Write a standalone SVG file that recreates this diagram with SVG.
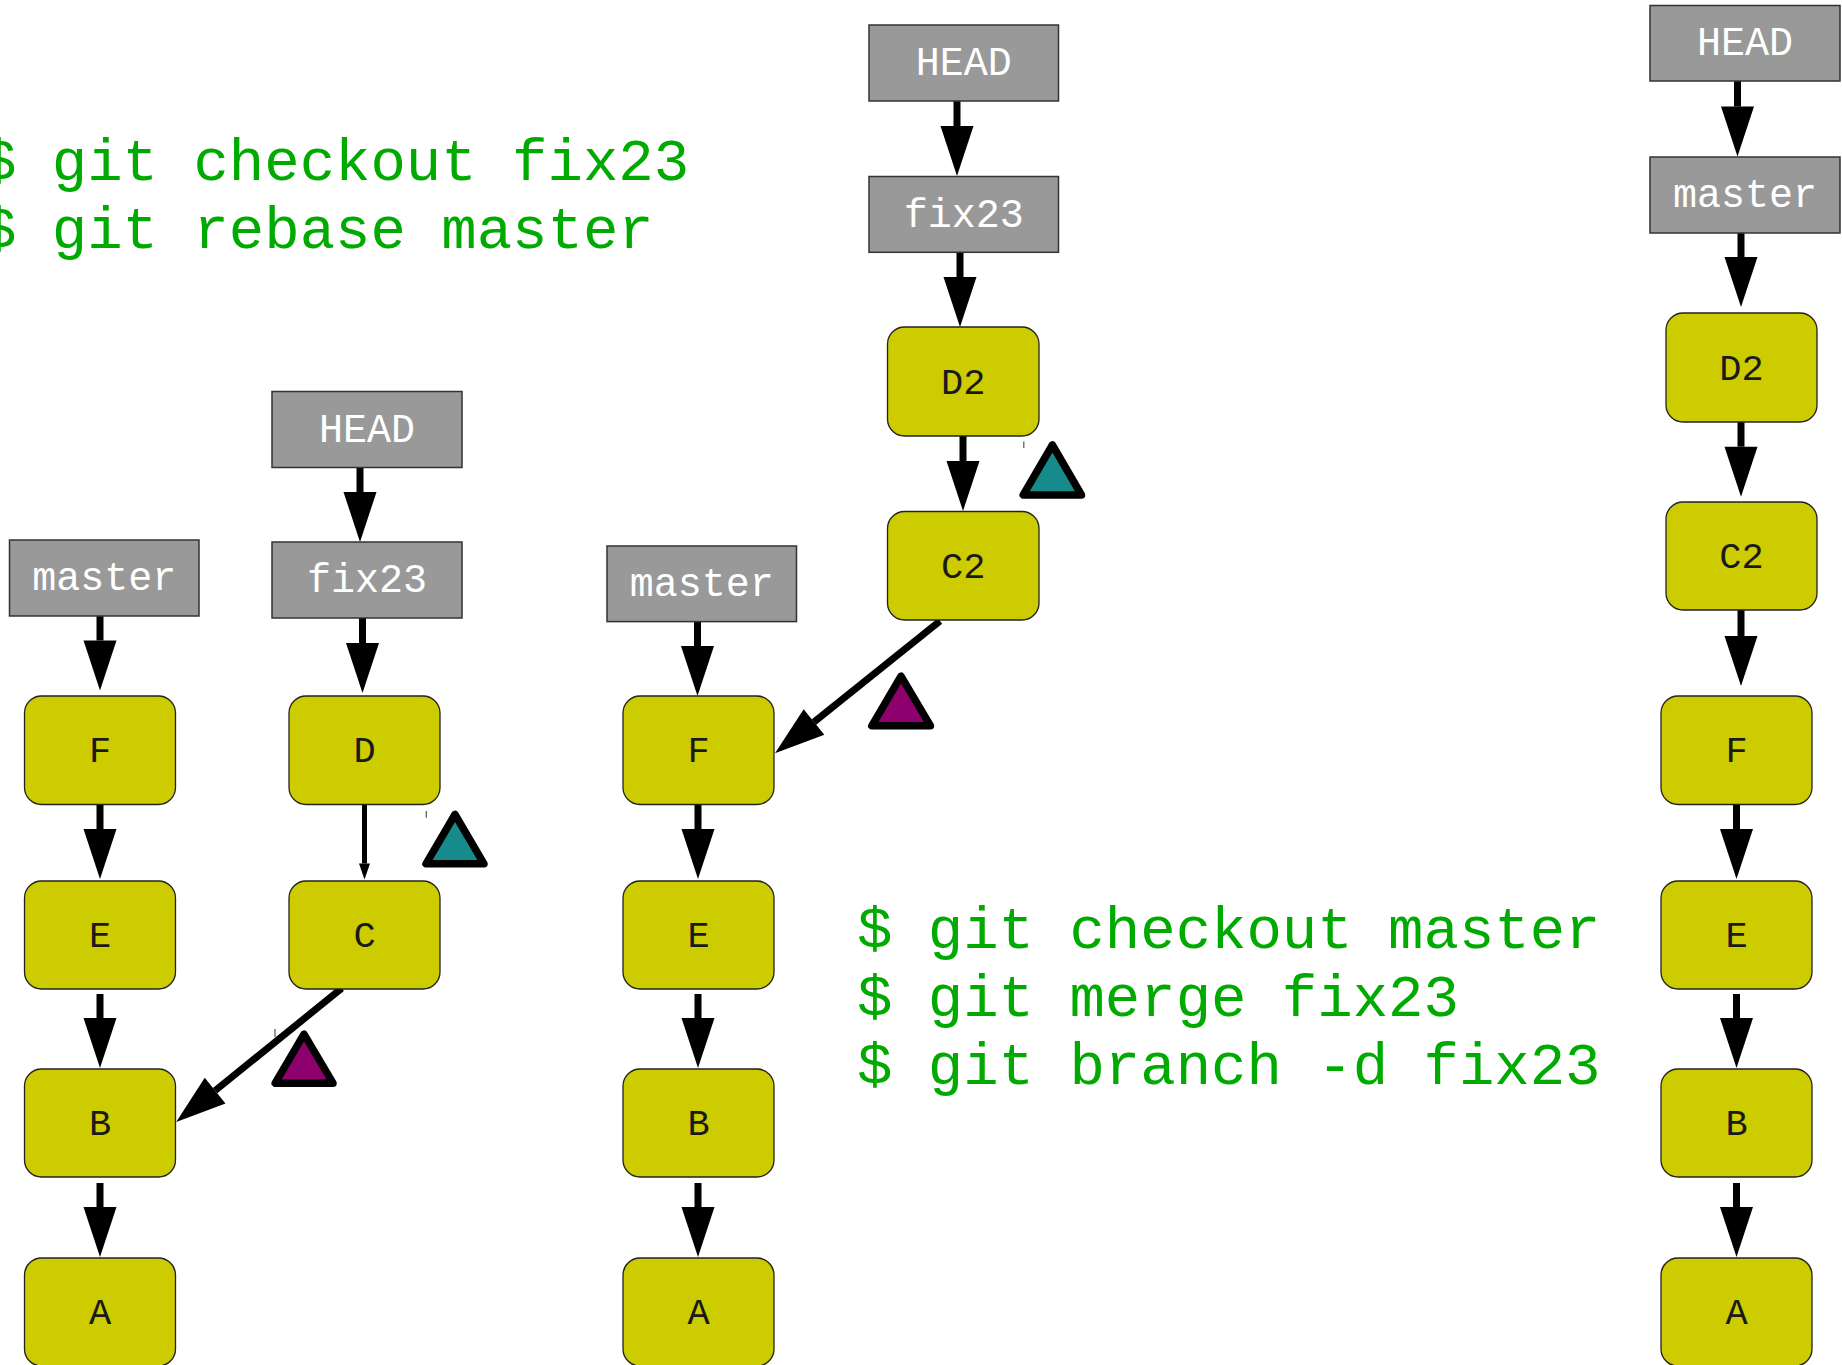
<svg xmlns="http://www.w3.org/2000/svg" width="1842" height="1365" viewBox="0 0 1842 1365">
<style>
.ref rect{fill:#999999;stroke:#333333;stroke-width:1.5}
.ref text{fill:#ffffff;font-family:"Liberation Mono","DejaVu Sans Mono",monospace;font-size:40px;text-anchor:middle}
.cm rect{fill:#cccc00;stroke:#222222;stroke-width:1.3}
.cm text{fill:#1a1a1a;font-family:"Liberation Mono","DejaVu Sans Mono",monospace;font-size:37px;text-anchor:middle}
.cmd{fill:#00aa00;font-family:"Liberation Mono","DejaVu Sans Mono",monospace;font-size:59px}
.edge{stroke:#000000;stroke-width:7;fill:none;marker-end:url(#ah)}
.thin{stroke:#000000;stroke-width:5;fill:none;marker-end:url(#ahs)}
.tri{stroke:#000000;stroke-width:7.5;stroke-linejoin:round}
.teal{fill:#178b8b}
.mag{fill:#8e006e}
.tick{stroke:#555555;stroke-width:1.2}
</style>
<defs>
<marker id="ah" markerUnits="userSpaceOnUse" markerWidth="50" markerHeight="34" refX="0" refY="16.5" orient="auto" overflow="visible">
<path d="M0,0 L50,16.5 L0,33 Z" fill="#000000"/>
</marker>
<marker id="ahs" markerUnits="userSpaceOnUse" markerWidth="16" markerHeight="11" refX="0" refY="5.5" orient="auto" overflow="visible">
<path d="M0,0 L16,5.5 L0,11 Z" fill="#000000"/>
</marker>
</defs>
<rect x="0" y="0" width="1842" height="1365" fill="#ffffff"/>

<text class="cmd" x="-19" y="180">$ git checkout fix23</text>
<text class="cmd" x="-19" y="248">$ git rebase master</text>
<text class="cmd" x="857" y="948">$ git checkout master</text>
<text class="cmd" x="857" y="1016">$ git merge fix23</text>
<text class="cmd" x="857" y="1084">$ git branch -d fix23</text>

<g id="connectors">
<line class="edge" x1="360" y1="467.5" x2="360" y2="492"/>
<line class="edge" x1="362.5" y1="618" x2="362.5" y2="643"/>
<line class="edge" x1="100" y1="616" x2="100" y2="640.5"/>
<line class="edge" x1="100" y1="805" x2="100" y2="829"/>
<line class="edge" x1="100" y1="994" x2="100" y2="1018"/>
<line class="edge" x1="100" y1="1183" x2="100" y2="1207"/>
<line class="thin" x1="364.5" y1="804.5" x2="364.5" y2="863.5"/>
<line class="edge" x1="341.7" y1="988.3" x2="215.1" y2="1090.6"/>
<line class="edge" x1="697.5" y1="621.6" x2="697.5" y2="646"/>
<line class="edge" x1="698" y1="805" x2="698" y2="829"/>
<line class="edge" x1="698" y1="994" x2="698" y2="1018"/>
<line class="edge" x1="698" y1="1183" x2="698" y2="1207"/>
<line class="edge" x1="957" y1="101" x2="957" y2="126"/>
<line class="edge" x1="960" y1="252.3" x2="960" y2="277"/>
<line class="edge" x1="963" y1="436" x2="963" y2="461"/>
<line class="edge" x1="940" y1="621" x2="814" y2="722"/>
<line class="edge" x1="1737.5" y1="81" x2="1737.5" y2="106.6"/>
<line class="edge" x1="1741" y1="233" x2="1741" y2="257"/>
<line class="edge" x1="1741" y1="422" x2="1741" y2="446.7"/>
<line class="edge" x1="1741" y1="610" x2="1741" y2="636"/>
<line class="edge" x1="1736.5" y1="805" x2="1736.5" y2="829"/>
<line class="edge" x1="1736.5" y1="994" x2="1736.5" y2="1018"/>
<line class="edge" x1="1736.5" y1="1183" x2="1736.5" y2="1207"/>
</g>

<g id="markers">
<path class="tri teal" d="M455,814.5 L426,863.8 L484,863.8 Z"/>
<path class="tri mag" d="M304,1034.2 L275.2,1083.2 L333,1083.2 Z"/>
<path class="tri teal" d="M1052.4,445 L1023.2,495 L1081.5,495 Z"/>
<path class="tri mag" d="M901,676.2 L871.8,725.8 L930.5,725.8 Z"/>
<line class="tick" x1="426.3" y1="811" x2="426.3" y2="817.7"/>
<line class="tick" x1="275" y1="1029" x2="275" y2="1037"/>
<line class="tick" x1="1023.8" y1="441.5" x2="1023.8" y2="448"/>
</g>

<g id="l-master" class="ref"><rect x="9.5" y="540" width="189.5" height="76"/><text x="104.3" y="590">master</text></g>
<g id="l-head" class="ref"><rect x="272" y="391.5" width="190" height="76"/><text x="367" y="441.5">HEAD</text></g>
<g id="l-fix23" class="ref"><rect x="272" y="542" width="190" height="76"/><text x="367" y="592">fix23</text></g>
<g id="l-F" class="cm"><rect x="24.5" y="696" width="151" height="108.5" rx="17"/><text x="100" y="762">F</text></g>
<g id="l-E" class="cm"><rect x="24.5" y="881" width="151" height="108" rx="17"/><text x="100" y="947">E</text></g>
<g id="l-B" class="cm"><rect x="24.5" y="1069" width="151" height="108" rx="17"/><text x="100" y="1135">B</text></g>
<g id="l-A" class="cm"><rect x="24.5" y="1258" width="151" height="108" rx="17"/><text x="100" y="1324">A</text></g>
<g id="l-D" class="cm"><rect x="289" y="696" width="151" height="108.5" rx="17"/><text x="364.5" y="762">D</text></g>
<g id="l-C" class="cm"><rect x="289" y="881" width="151" height="108" rx="17"/><text x="364.5" y="947">C</text></g>

<g id="m-master" class="ref"><rect x="607" y="546" width="189.5" height="75.6"/><text x="701.7" y="596">master</text></g>
<g id="m-head" class="ref"><rect x="869" y="25" width="189.5" height="76"/><text x="963.7" y="75">HEAD</text></g>
<g id="m-fix23" class="ref"><rect x="869" y="176.5" width="189.5" height="75.8"/><text x="963.7" y="226.5">fix23</text></g>
<g id="m-D2" class="cm"><rect x="887.5" y="327" width="151.5" height="109" rx="17"/><text x="963.2" y="393.5">D2</text></g>
<g id="m-C2" class="cm"><rect x="887.5" y="511.5" width="151.5" height="108.5" rx="17"/><text x="963.2" y="578">C2</text></g>
<g id="m-F" class="cm"><rect x="623" y="696" width="151" height="108.5" rx="17"/><text x="698.5" y="762">F</text></g>
<g id="m-E" class="cm"><rect x="623" y="881" width="151" height="108" rx="17"/><text x="698.5" y="947">E</text></g>
<g id="m-B" class="cm"><rect x="623" y="1069" width="151" height="108" rx="17"/><text x="698.5" y="1135">B</text></g>
<g id="m-A" class="cm"><rect x="623" y="1258" width="151" height="108" rx="17"/><text x="698.5" y="1324">A</text></g>

<g id="r-head" class="ref"><rect x="1650" y="5.5" width="190" height="75.5"/><text x="1745" y="55">HEAD</text></g>
<g id="r-master" class="ref"><rect x="1650" y="157" width="190" height="76"/><text x="1745" y="207">master</text></g>
<g id="r-D2" class="cm"><rect x="1666" y="313" width="151" height="109" rx="17"/><text x="1741.5" y="379.5">D2</text></g>
<g id="r-C2" class="cm"><rect x="1666" y="502" width="151" height="108" rx="17"/><text x="1741.5" y="568">C2</text></g>
<g id="r-F" class="cm"><rect x="1661" y="696" width="151" height="108.5" rx="17"/><text x="1736.5" y="762">F</text></g>
<g id="r-E" class="cm"><rect x="1661" y="881" width="151" height="108" rx="17"/><text x="1736.5" y="947">E</text></g>
<g id="r-B" class="cm"><rect x="1661" y="1069" width="151" height="108" rx="17"/><text x="1736.5" y="1135">B</text></g>
<g id="r-A" class="cm"><rect x="1661" y="1258" width="151" height="108" rx="17"/><text x="1736.5" y="1324">A</text></g>
</svg>
